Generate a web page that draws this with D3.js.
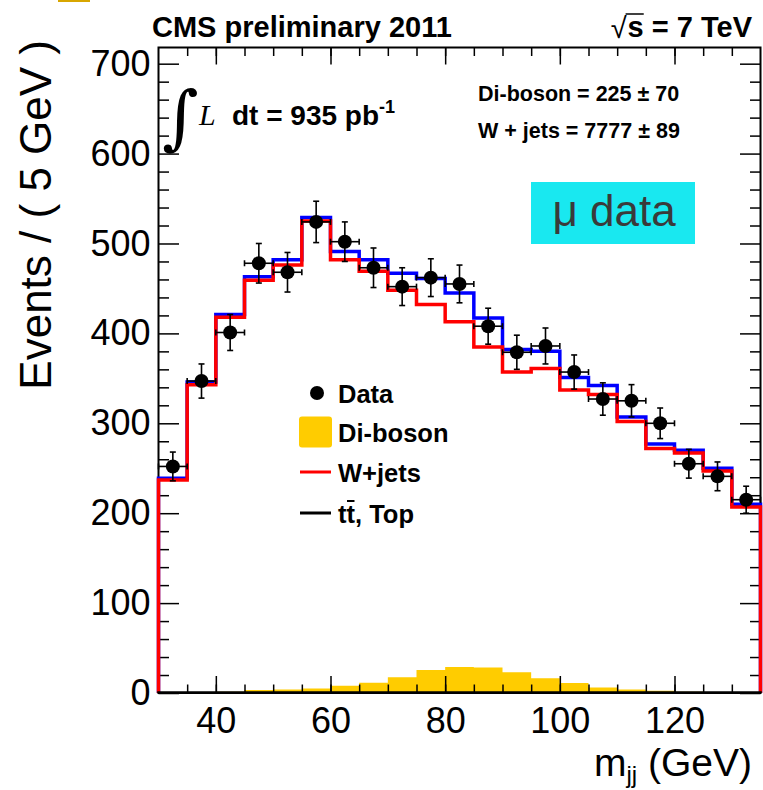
<!DOCTYPE html>
<html>
<head>
<meta charset="utf-8">
<script src="https://cdn.jsdelivr.net/npm/d3@7"></script>
<style>
  body { margin: 0; background: #fff; }
  svg text { font-family: "Liberation Sans", Arial, Helvetica, sans-serif; }
</style>
</head>
<body>
<div id="chart"></div>
<script>
// m_jj bins, 5 GeV wide (low edges)
var binLow = [30, 35, 40, 45, 50, 55, 60, 65, 70, 75, 80, 85, 90, 95, 100, 105, 110, 115, 120, 125, 130];
var binWidth = 5;

// data points and their errors
var dataVals = [252, 347, 401, 478, 468, 524, 502, 473, 452, 462, 455, 408, 379, 386, 357, 327, 325, 300, 255, 241, 215];
var dataErr  = [16, 19, 20, 22, 22, 23, 22, 22, 21, 21, 21, 20, 19, 20, 19, 18, 18, 17, 16, 16, 15];

// fitted components
var wjets   = [237, 343, 418, 459, 476, 525, 482, 469, 448, 432, 413, 385, 357, 361, 337, 332, 302, 272, 267, 247, 207];
var total   = [239, 346, 421, 463, 482, 529, 491, 482, 467, 461, 445, 417, 382, 380, 351, 342, 307, 277, 270, 250, 210];
var diboson = [0.3, 0.8, 1.5, 3.3, 4, 5, 8, 11.5, 17.5, 25.5, 29, 28.5, 23, 16.5, 11, 6, 4, 2.6, 1.5, 0.7, 0.4];
var ttbar   = [0.5, 0.5, 0.5, 0.5, 0.5, 0.5, 0.5, 0.5, 0.5, 0.5, 0.5, 0.5, 0.5, 0.5, 0.5, 0.5, 0.5, 0.5, 0.5, 0.5, 0.5];

// axis ticks
var xMajor = [40, 60, 80, 100, 120];
var yMajor = [0, 100, 200, 300, 400, 500, 600, 700];
var yMinor = [20, 40, 60, 80, 120, 140, 160, 180, 220, 240, 260, 280, 320, 340, 360, 380,
              420, 440, 460, 480, 520, 540, 560, 580, 620, 640, 660, 680];

var legendLabels = ['Data', 'Di-boson', 'W+jets', 'tt, Top'];

var width = 763, height = 790;
var frame = { left: 158.5, right: 760.5, top: 47.5, bottom: 693 };

var x = d3.scaleLinear().domain([30, 135]).range([frame.left, frame.right]);
var y = d3.scaleLinear().domain([0, 718]).range([frame.bottom, frame.top]);

var svg = d3.select('#chart').append('svg')
  .attr('width', width)
  .attr('height', height);

// leftover bit of a logo at the very top
svg.append('rect').attr('x', 58).attr('y', 0).attr('width', 32).attr('height', 2).attr('fill', '#d8a600');

function stepPoints(vals) {
  var pts = [[binLow[0], 0]];
  vals.forEach(function(v, i) { pts.push([binLow[i], v]); });
  var xEnd = binLow[binLow.length - 1] + binWidth;
  pts.push([xEnd, vals[vals.length - 1]]);
  pts.push([xEnd, 0]);
  return pts;
}

var stepLine = d3.line()
  .curve(d3.curveStepAfter)
  .x(function(d) { return x(d[0]); })
  .y(function(d) { return y(d[1]); });

var stepArea = d3.area()
  .curve(d3.curveStepAfter)
  .x(function(d) { return x(d[0]); })
  .y0(y(0))
  .y1(function(d) { return y(d[1]); });

// di-boson fill goes under everything
svg.append('path')
  .attr('d', stepArea(stepPoints(diboson)))
  .attr('fill', '#ffcc00');

// AXES (ticks point inwards, ROOT style)
function addAxis(axis, tx, ty) {
  var g = svg.append('g')
    .attr('transform', 'translate(' + tx + ',' + ty + ')')
    .attr('font-family', '"Liberation Sans", Arial, sans-serif')
    .call(axis);
  g.select('.domain').remove();
  g.selectAll('line').attr('stroke', '#000').attr('stroke-width', 1.5);
  return g;
}

var gx = addAxis(d3.axisBottom(x).tickValues(xMajor).tickSize(-17).tickFormat(d3.format('d')), 0, frame.bottom);
gx.selectAll('text')
  .attr('y', 40).attr('dy', 0)
  .attr('font-size', 36).attr('fill', '#000');
addAxis(d3.axisBottom(x).tickValues(binLow.slice(1)).tickSize(-8.5).tickFormat(''), 0, frame.bottom);
addAxis(d3.axisTop(x).tickValues(xMajor).tickSize(-17).tickFormat(''), 0, frame.top);
addAxis(d3.axisTop(x).tickValues(binLow.slice(1)).tickSize(-8.5).tickFormat(''), 0, frame.top);

var gy = addAxis(d3.axisLeft(y).tickValues(yMajor).tickSize(-20.5).tickPadding(8).tickFormat(d3.format('d')), frame.left, 0);
gy.selectAll('text').attr('font-size', 36).attr('fill', '#000');
addAxis(d3.axisLeft(y).tickValues(yMinor).tickSize(-10.5).tickFormat(''), frame.left, 0);
addAxis(d3.axisRight(y).tickValues(yMajor).tickSize(-20.5).tickFormat(''), frame.right, 0);
addAxis(d3.axisRight(y).tickValues(yMinor).tickSize(-10.5).tickFormat(''), frame.right, 0);

svg.append('rect')
  .attr('x', frame.left).attr('y', frame.top)
  .attr('width', frame.right - frame.left)
  .attr('height', frame.bottom - frame.top)
  .attr('fill', 'none')
  .attr('stroke', '#000')
  .attr('stroke-width', 2);

// histograms
svg.append('path').attr('d', stepLine(stepPoints(total)))
  .attr('fill', 'none').attr('stroke', '#0000ff').attr('stroke-width', 3.5);
svg.append('path').attr('d', stepLine(stepPoints(wjets)))
  .attr('fill', 'none').attr('stroke', '#ff0000').attr('stroke-width', 3.5);
svg.append('path').attr('d', stepLine(stepPoints(ttbar)))
  .attr('fill', 'none').attr('stroke', '#000').attr('stroke-width', 2.5);

// DATA with error bars
var pts = svg.append('g').selectAll('g')
  .data(dataVals.map(function(v, i) { return { lo: binLow[i], v: v, e: dataErr[i] }; }))
  .enter().append('g')
  .attr('stroke', '#000').attr('stroke-width', 1.6);

pts.append('line')
  .attr('x1', function(d) { return x(d.lo); })
  .attr('x2', function(d) { return x(d.lo + binWidth); })
  .attr('y1', function(d) { return y(d.v); })
  .attr('y2', function(d) { return y(d.v); });
pts.append('line')
  .attr('x1', function(d) { return x(d.lo + binWidth / 2); })
  .attr('x2', function(d) { return x(d.lo + binWidth / 2); })
  .attr('y1', function(d) { return y(d.v - d.e); })
  .attr('y2', function(d) { return y(d.v + d.e); });
[-1, 1].forEach(function(s) {
  pts.append('line')
    .attr('x1', function(d) { return x(d.lo + binWidth / 2) - 3; })
    .attr('x2', function(d) { return x(d.lo + binWidth / 2) + 3; })
    .attr('y1', function(d) { return y(d.v + s * d.e); })
    .attr('y2', function(d) { return y(d.v + s * d.e); });
  pts.append('line')
    .attr('x1', function(d) { return x(d.lo + binWidth / 2 + s * binWidth / 2); })
    .attr('x2', function(d) { return x(d.lo + binWidth / 2 + s * binWidth / 2); })
    .attr('y1', function(d) { return y(d.v) - 3; })
    .attr('y2', function(d) { return y(d.v) + 3; });
});
pts.append('circle')
  .attr('cx', function(d) { return x(d.lo + binWidth / 2); })
  .attr('cy', function(d) { return y(d.v); })
  .attr('r', 7)
  .attr('fill', '#000').attr('stroke', 'none');

// TEXTS
svg.append('text').attr('x', 152).attr('y', 37)
  .attr('font-size', 29).attr('font-weight', 'bold')
  .text('CMS preliminary 2011');

var rs = svg.append('text').attr('x', 752).attr('y', 37)
  .attr('font-size', 29).attr('font-weight', 'bold').attr('text-anchor', 'end')
  .text('s = 7 TeV');
var sW = rs.node().getSubStringLength(0, 1);
var sX = 752 - rs.node().getComputedTextLength();
svg.append('text').attr('x', sX - 1).attr('y', 38)
  .attr('font-size', 29).attr('text-anchor', 'end').text('\u221A');
svg.append('line').attr('x1', sX - 2).attr('x2', sX + sW).attr('y1', 14).attr('y2', 14)
  .attr('stroke', '#000').attr('stroke-width', 1.5);

svg.append('text').attr('x', 162).attr('y', 141)
  .attr('font-size', 70).style('font-family', '"DejaVu Serif", serif')
  .text('\u222B');
svg.append('text').attr('x', 199).attr('y', 125)
  .attr('font-size', 30).attr('font-style', 'italic')
  .style('font-family', '"Liberation Serif", "Times New Roman", serif')
  .text('L');
var lumi = svg.append('text').attr('x', 232).attr('y', 125)
  .attr('font-size', 28).attr('font-weight', 'bold');
lumi.append('tspan').text('dt = 935 pb');
lumi.append('tspan').attr('dy', -12).attr('font-size', 18).text('-1');

svg.append('text').attr('x', 478).attr('y', 101)
  .attr('font-size', 21.5).attr('font-weight', 'bold')
  .text('Di-boson = 225 \u00B1 70');
svg.append('text').attr('x', 478).attr('y', 138)
  .attr('font-size', 21.5).attr('font-weight', 'bold')
  .text('W + jets = 7777 \u00B1 89');

svg.append('rect').attr('x', 531).attr('y', 182).attr('width', 164).attr('height', 62)
  .attr('fill', '#19e8f0');
svg.append('text').attr('x', 614).attr('y', 226)
  .attr('font-size', 44).attr('text-anchor', 'middle').attr('fill', '#3a3a3a')
  .text('\u03BC data');

// axis titles
svg.append('text')
  .attr('transform', 'translate(51,40) rotate(-90)')
  .attr('font-size', 44).attr('text-anchor', 'end')
  .text('Events / ( 5 GeV )');
var xt = svg.append('text').attr('x', 752).attr('y', 776)
  .attr('font-size', 39).attr('text-anchor', 'end');
xt.append('tspan').text('m');
xt.append('tspan').attr('dy', 7).attr('font-size', 24).text('jj');
xt.append('tspan').attr('dy', -7).text(' (GeV)');

// LEGEND
var rowY = [393, 432, 472, 513];
var legend = svg.append('g');
legend.append('circle').attr('cx', 317).attr('cy', rowY[0]).attr('r', 7).attr('fill', '#000');
legend.append('rect').attr('x', 299).attr('y', rowY[1] - 15.5).attr('width', 33).attr('height', 31)
  .attr('rx', 3).attr('fill', '#ffcc00');
legend.append('line').attr('x1', 300).attr('x2', 331).attr('y1', rowY[2]).attr('y2', rowY[2])
  .attr('stroke', '#ff0000').attr('stroke-width', 3);
legend.append('line').attr('x1', 300).attr('x2', 331).attr('y1', rowY[3]).attr('y2', rowY[3])
  .attr('stroke', '#000').attr('stroke-width', 3);

legend.selectAll('text.lab')
  .data(legendLabels)
  .enter().append('text')
  .attr('class', 'lab')
  .attr('x', 338)
  .attr('y', function(d, i) { return rowY[i] + 9.5; })
  .attr('font-size', 25.5).attr('font-weight', 'bold')
  .text(function(d) { return d; });

// bar over the second t of "tt"
var ttNode = legend.selectAll('text.lab').nodes()[3];
var t1 = ttNode.getSubStringLength(0, 1), t2 = ttNode.getSubStringLength(1, 1);
legend.append('line')
  .attr('x1', 338 + t1 + 0.5).attr('x2', 338 + t1 + t2 - 0.5)
  .attr('y1', rowY[3] - 12).attr('y2', rowY[3] - 12)
  .attr('stroke', '#000').attr('stroke-width', 2);
</script>
</body>
</html>
